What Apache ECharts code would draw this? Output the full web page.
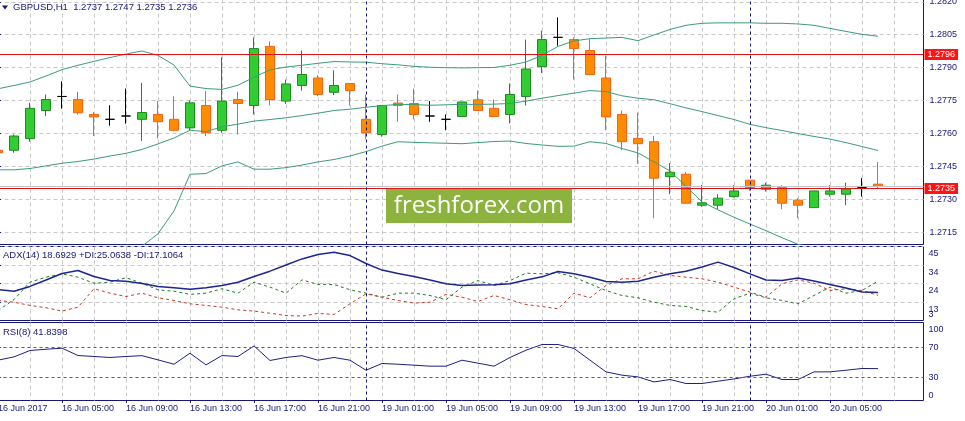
<!DOCTYPE html>
<html><head><meta charset="utf-8">
<script src="https://cdn.jsdelivr.net/npm/echarts@6/dist/echarts.min.js"></script>
<style>html,body{margin:0;padding:0;background:#fff}#c{width:965px;height:421px}</style>
</head><body><div id="c"></div>
<script>
// ---------- DATA ----------
const OPEN  = [1.27524,1.27524,1.27577,1.27705,1.27769,1.27755,1.27687,1.27665,1.27680,1.27665,1.27687,1.27665,1.27626,1.27728,1.27615,1.27755,1.27728,1.27997,1.27748,1.27819,1.27853,1.27788,1.27828,1.27665,1.27596,1.27739,1.27737,1.27680,1.27665,1.27678,1.27754,1.27715,1.27687,1.27769,1.27905,1.28038,1.28028,1.27978,1.27853,1.27687,1.27578,1.27563,1.27404,1.27415,1.27274,1.27274,1.27313,1.27388,1.27347,1.27354,1.27297,1.27263,1.27324,1.27324,1.27354,1.2737];
const CLOSE = [1.27513,1.27589,1.27715,1.27755,1.27769,1.27695,1.27676,1.27665,1.27680,1.27696,1.27654,1.27615,1.27740,1.27604,1.27748,1.27737,1.27987,1.27755,1.27826,1.27869,1.27778,1.27819,1.27796,1.27604,1.27728,1.27728,1.27687,1.27680,1.27665,1.27744,1.27705,1.27678,1.27778,1.27894,1.28028,1.28038,1.27987,1.27869,1.27676,1.27563,1.27554,1.27397,1.27424,1.27283,1.27285,1.27306,1.27339,1.27354,1.27365,1.27283,1.27274,1.27339,1.27339,1.27347,1.27354,1.2736];
const LOW   = [1.27512,1.27513,1.27563,1.27680,1.27713,1.27687,1.27589,1.27636,1.27645,1.27566,1.27578,1.27611,1.27615,1.27589,1.27604,1.27596,1.27687,1.27728,1.27735,1.27796,1.27770,1.27775,1.27728,1.27574,1.27586,1.27654,1.27665,1.27654,1.27615,1.27678,1.27705,1.27678,1.27646,1.27728,1.27876,1.28000,1.27846,1.27866,1.27615,1.27524,1.27463,1.27215,1.27324,1.27283,1.27267,1.27254,1.27309,1.27339,1.27336,1.27256,1.27215,1.27263,1.27313,1.27274,1.27313,1.2735];
const HIGH  = [1.27530,1.27596,1.27740,1.27778,1.27838,1.27790,1.27698,1.27729,1.27805,1.27831,1.27748,1.27770,1.27751,1.27793,1.27947,1.27790,1.28038,1.28020,1.27846,1.27978,1.27866,1.27888,1.27829,1.27778,1.27729,1.27778,1.27805,1.27748,1.27687,1.27744,1.27796,1.27755,1.27828,1.28028,1.28068,1.28129,1.28038,1.28030,1.27955,1.27705,1.27695,1.27589,1.27466,1.27425,1.27366,1.27324,1.27365,1.27388,1.27376,1.27365,1.27306,1.27339,1.27365,1.27376,1.27397,1.2747];

const BB_UPPER  = [1.27804,1.27819,1.27835,1.27862,1.27891,1.27911,1.27929,1.27946,1.27962,1.27976,1.27956,1.27912,1.27816,1.27805,1.27801,1.27820,1.27857,1.27890,1.27903,1.27911,1.27920,1.27928,1.27926,1.27925,1.27918,1.27913,1.27906,1.27902,1.27900,1.27899,1.27900,1.27901,1.27911,1.27926,1.27956,1.27997,1.28022,1.28032,1.28035,1.28038,1.28023,1.28049,1.28074,1.28093,1.28102,1.28104,1.28104,1.28104,1.28102,1.28102,1.28099,1.28093,1.28079,1.28065,1.28052,1.28043];
const BB_MIDDLE = [1.27435,1.27435,1.27441,1.27453,1.27465,1.27473,1.27484,1.27498,1.27510,1.27528,1.27553,1.27580,1.27615,1.27609,1.27631,1.27643,1.27657,1.27664,1.27672,1.27682,1.27693,1.27705,1.27711,1.27720,1.27727,1.27733,1.27732,1.27729,1.27731,1.27733,1.27733,1.27734,1.27737,1.27748,1.27761,1.27773,1.27784,1.27796,1.27791,1.27772,1.27761,1.27754,1.27736,1.27717,1.27700,1.27682,1.27664,1.27642,1.27627,1.27614,1.27600,1.27587,1.27575,1.27559,1.27541,1.27523];
const BB_LOWER  = [1.27065,1.27050,1.27047,1.27044,1.27039,1.27035,1.27040,1.27050,1.27059,1.27087,1.27144,1.27248,1.27415,1.27418,1.27453,1.27471,1.27438,1.27438,1.27445,1.27457,1.27471,1.27482,1.27498,1.27518,1.27543,1.27563,1.27560,1.27558,1.27556,1.27554,1.27559,1.27564,1.27566,1.27555,1.27548,1.27542,1.27543,1.27563,1.27555,1.27532,1.27512,1.27471,1.27430,1.27360,1.27289,1.27253,1.27219,1.27188,1.27158,1.27126,1.27096,1.27081,1.27071,1.27053,1.27031,1.27003];

const ADX      = [20.4,19.4,22.1,25.7,29.4,31.1,27.7,25.4,25.0,23.8,22.1,21.3,20.5,21.3,22.6,24.5,27.7,30.7,34.2,37.6,40.1,41.4,39.5,35.0,31.3,29.4,27.7,25.7,23.6,22.6,22.9,23.0,23.6,25.7,27.5,30.5,29.2,27.3,24.9,24.5,25.0,27.3,29.2,30.7,33.1,35.8,32.8,29.2,25.7,25.4,26.9,25.2,23.2,21.2,19.0,18.6929];
const PLUS_DI  = [8.5,14.7,24.5,27.3,29.2,27.3,23.9,24.5,27.0,23.9,20.2,19.4,17.6,18.3,20.8,18.3,24.5,21.7,18.3,25.8,23.2,23.2,20.2,18.3,16.0,18.3,18.3,17.0,14.6,21.7,25.4,22.6,25.4,29.6,29.2,29.8,27.3,23.6,19.8,17.0,15.7,13.2,11.4,10.8,8.5,7.6,15.1,18.3,15.7,14.2,12.3,17.0,21.7,18.3,19.8,25.0638];
const MINUS_DI = [14.2,13.2,11.4,10.1,8.2,10.4,20.8,18.3,16.4,18.3,15.7,14.2,12.3,11.4,10.4,8.9,8.2,7.0,5.7,5.4,6.9,6.3,12.3,17.9,16.0,14.2,12.7,13.2,17.6,16.0,13.6,17.0,14.6,11.9,10.8,9.5,18.3,15.7,22.6,26.4,26.4,30.7,28.3,27.3,26.4,24.5,21.7,18.9,16.0,23.6,25.8,23.9,19.8,20.8,19.8,17.1064];
const RSI      = [53.1,57.5,66.0,67.7,69.1,59.3,58.0,56.7,58.0,59.1,53.5,47.7,62.4,46.8,59.3,58.0,72.1,52.7,56.7,59.1,53.1,56.7,53.1,39.7,48.7,47.7,46.4,45.1,45.1,53.1,49.1,45.1,56.7,66.4,74.0,74.0,68.7,53.1,37.5,33.1,30.8,24.1,27.3,22.0,22.0,25.1,28.1,31.7,34.4,27.3,27.3,37.5,37.5,39.7,42.0,41.8398];

const TIME_LABELS = ['16 Jun 2017','16 Jun 05:00','16 Jun 09:00','16 Jun 13:00','16 Jun 17:00','16 Jun 21:00','19 Jun 01:00','19 Jun 05:00','19 Jun 09:00','19 Jun 13:00','19 Jun 17:00','19 Jun 21:00','20 Jun 01:00','20 Jun 05:00'];
const PRICE_TICKS = [1.2820,1.2805,1.2790,1.2775,1.2760,1.2745,1.2730,1.2715];
const PRICE_LEVELS = [1.2796,1.2735];
const BID = 1.2736;
const RSI_LEVELS = [70,30];
const RSI_RANGE_LABELS = [100,0];
const ADX_MIN = 2.9, ADX_MAX = 44.6;
const SEPARATORS = [23,47];
const HEADER = 'GBPUSD,H1  1.2737 1.2747 1.2735 1.2736';
const ADX_TITLE = 'ADX(14) 18.6929 +DI:25.0638 -DI:17.1064';
const RSI_TITLE = 'RSI(8) 41.8398';

// ---------- LAYOUT ----------
const PX_C0 = -2, PX_STEP = 16, G_LEFT = -2.5, G_WIDTH = 926;
const X_MIN = (G_LEFT - PX_C0) / PX_STEP, X_MAX = (G_LEFT + G_WIDTH - PX_C0) / PX_STEP;
const NAVY = '#17177a', GRIDC = '#c8c8c8', FONT = 'Liberation Sans';
const RSI_AX_MIN = -0.67, RSI_AX_MAX = 103.33;
const idx = OPEN.map((_, i) => i);
const gridXs = []; for (let v = 0; v <= 56; v += 2) gridXs.push(v);
const labelXs = TIME_LABELS.map((_, k) => k * 4);
const adxStep = (ADX_MAX - ADX_MIN) / 4;
const adxTicks = [0,1,2,3].map(k => ADX_MAX - k * adxStep);
const adxLowest = adxTicks[adxTicks.length - 1];

const candles = idx.filter(i => OPEN[i] !== CLOSE[i]).map(i => [i, OPEN[i], CLOSE[i], LOW[i], HIGH[i]]);
const dojis = idx.filter(i => OPEN[i] === CLOSE[i]).map(i => [i, OPEN[i], CLOSE[i], LOW[i], HIGH[i]]);
const pair = arr => arr.map((v, i) => [i, v]);

const splitDash = {show: true, lineStyle: {color: GRIDC, type: [4,3], width: 1}};
function xAx(grid, extra) {
  return Object.assign({type: 'value', gridIndex: grid, min: X_MIN, max: X_MAX, position: 'bottom',
    axisLine: {show: false}, axisTick: {show: false, customValues: gridXs}, axisLabel: {show: false},
    splitLine: splitDash}, extra || {});
}
const lbl = {color: NAVY, fontSize: 9, fontFamily: FONT, showMinLabel: true, showMaxLabel: true, hideOverlap: false};
const sepMark = {silent: true, symbol: ['none','none'], animation: false, precision: 5,
  lineStyle: {color: NAVY, type: [3,3], width: 1}, label: {show: false}, emphasis: {disabled: true},
  data: SEPARATORS.map(v => ({xAxis: v}))};
const richTxt = {fontSize: 9, fontFamily: FONT, color: NAVY};

const option = {
  animation: false,
  backgroundColor: '#ffffff',
  grid: [
    {left: G_LEFT, top: -0.5, width: G_WIDTH, height: 245, show: true, borderColor: NAVY, borderWidth: 1, containLabel: false, outerBoundsMode: 'none'},
    {left: G_LEFT, top: 246.5, width: G_WIDTH, height: 74, show: true, borderColor: NAVY, borderWidth: 1, containLabel: false, outerBoundsMode: 'none'},
    {left: G_LEFT, top: 322.5, width: G_WIDTH, height: 78, show: true, borderColor: NAVY, borderWidth: 1, containLabel: false, outerBoundsMode: 'none'}
  ],
  xAxis: [
    xAx(0), xAx(1), xAx(2),
    xAx(2, {splitLine: {show: false},
      axisTick: {show: true, customValues: labelXs, length: 3, lineStyle: {color: NAVY}},
      axisLabel: Object.assign({show: true, customValues: labelXs, align: 'left', margin: 4,
        formatter: v => TIME_LABELS[Math.round(v / 4)]}, lbl)})
  ],
  yAxis: [
    {type: 'value', gridIndex: 0, position: 'right', min: 1.270951, max: 1.282104,
      axisLine: {show: true, lineStyle: {color: NAVY}},
      axisTick: {show: true, length: 3, customValues: PRICE_TICKS, lineStyle: {color: NAVY}},
      axisLabel: Object.assign({customValues: PRICE_TICKS, margin: 6, formatter: v => v.toFixed(4)}, lbl),
      splitLine: splitDash},
    {type: 'value', gridIndex: 1, position: 'right', min: ADX_MIN, max: ADX_MAX,
      axisLine: {show: true, lineStyle: {color: NAVY}},
      axisTick: {show: true, length: 3, customValues: adxTicks, lineStyle: {color: NAVY}},
      axisLabel: Object.assign({customValues: adxTicks, margin: 5, verticalAlign: 'top', padding: [3,0,0,0],
        formatter: v => (Math.abs(v - adxLowest) < 1e-6
          ? '{a|' + Math.round(v) + '}\n{b|' + Math.round(ADX_MIN) + '}'
          : String(Math.round(v))),
        rich: {a: Object.assign({lineHeight: 9}, richTxt), b: Object.assign({lineHeight: 2}, richTxt)}}, lbl),
      splitLine: splitDash},
    {type: 'value', gridIndex: 2, position: 'right', min: RSI_AX_MIN, max: RSI_AX_MAX,
      axisLine: {show: true, lineStyle: {color: NAVY}},
      axisTick: {show: true, length: 3, customValues: RSI_LEVELS, lineStyle: {color: NAVY}},
      axisLabel: Object.assign({customValues: RSI_LEVELS, margin: 5}, lbl),
      splitLine: {show: false}},
    {type: 'value', gridIndex: 2, position: 'right', min: RSI_AX_MIN, max: RSI_AX_MAX,
      axisLine: {show: false}, axisTick: {show: false}, splitLine: {show: false},
      axisLabel: Object.assign({customValues: [RSI_RANGE_LABELS[0]], margin: 5, verticalAlign: 'top'}, lbl)},
    {type: 'value', gridIndex: 2, position: 'right', min: RSI_AX_MIN, max: RSI_AX_MAX,
      axisLine: {show: false}, axisTick: {show: false}, splitLine: {show: false},
      axisLabel: Object.assign({customValues: [RSI_RANGE_LABELS[1]], margin: 5, verticalAlign: 'bottom'}, lbl)}
  ],
  series: [
    {type: 'candlestick', xAxisIndex: 0, yAxisIndex: 0, data: candles, barWidth: 9,
      itemStyle: {color: '#32cd32', color0: '#ff8c00', borderColor: '#1f8a1f', borderColor0: '#ef6419', borderWidth: 1}},
    {type: 'candlestick', xAxisIndex: 0, yAxisIndex: 0, data: dojis, barWidth: 10,
      itemStyle: {color: '#000', color0: '#000', borderColor: '#000', borderColor0: '#000', borderColorDoji: '#000', borderWidth: 1}},
    {type: 'line', xAxisIndex: 0, yAxisIndex: 0, data: pair(BB_LOWER), symbol: 'none', lineStyle: {color: '#3a9e78', width: 1},
      markLine: {silent: true, symbol: ['none','none'], animation: false, precision: 5,
        lineStyle: {color: '#c4c4c4', type: 'solid', width: 1}, label: {show: false}, emphasis: {disabled: true},
        data: [{yAxis: BID}]}},
    {type: 'line', xAxisIndex: 0, yAxisIndex: 0, data: pair(BB_MIDDLE), symbol: 'none', lineStyle: {color: '#3a9e78', width: 1},
      markLine: {silent: true, symbol: ['none','none'], animation: false, precision: 5,
        lineStyle: {color: '#e01010', type: 'solid', width: 1, opacity: 1}, emphasis: {disabled: true},
        label: {show: true, position: 'end', distance: 1, formatter: p => Number(p.value).toFixed(4), color: '#ffffff',
          backgroundColor: '#ff1414', padding: [1,3,1,3], fontSize: 9, fontFamily: FONT},
        data: PRICE_LEVELS.map(p => ({yAxis: p}))}},
    {type: 'line', xAxisIndex: 0, yAxisIndex: 0, data: pair(BB_UPPER), symbol: 'none', lineStyle: {color: '#3a9e78', width: 1},
      markLine: sepMark},
    {type: 'line', xAxisIndex: 1, yAxisIndex: 1, data: pair(PLUS_DI), symbol: 'none', lineStyle: {color: '#227a22', width: 1, type: [3,3]}},
    {type: 'line', xAxisIndex: 1, yAxisIndex: 1, data: pair(MINUS_DI), symbol: 'none', lineStyle: {color: '#c43a2a', width: 1, type: [3,3]}},
    {type: 'line', xAxisIndex: 1, yAxisIndex: 1, data: pair(ADX), symbol: 'none', lineStyle: {color: '#1c2690', width: 1.5},
      markLine: sepMark},
    {type: 'line', xAxisIndex: 2, yAxisIndex: 2, data: pair(RSI), symbol: 'none', lineStyle: {color: '#1c2180', width: 1},
      markLine: {silent: true, symbol: ['none','none'], animation: false, precision: 5,
        lineStyle: {color: '#d03028', type: [3,3], width: 1}, label: {show: false}, emphasis: {disabled: true},
        data: RSI_LEVELS.map(v => ({yAxis: v}))}},
    {type: 'line', xAxisIndex: 2, yAxisIndex: 2, data: [], symbol: 'none', markLine: sepMark}
  ],
  graphic: [
    {type: 'polygon', shape: {points: [[2,5.5],[8,5.5],[5,9.5]]}, style: {fill: NAVY}, z: 50},
    {type: 'text', x: 13, y: 7.5, style: {text: HEADER, fill: NAVY, font: '9.5px "Liberation Sans"', verticalAlign: 'middle'}, z: 50},
    {type: 'text', x: 3, y: 255.5, style: {text: ADX_TITLE, fill: NAVY, font: '9.5px "Liberation Sans"', verticalAlign: 'middle'}, z: 50},
    {type: 'text', x: 3, y: 332, style: {text: RSI_TITLE, fill: NAVY, font: '9.5px "Liberation Sans"', verticalAlign: 'middle'}, z: 50},
    {type: 'rect', shape: {x: 386, y: 189, width: 186, height: 34}, style: {fill: '#8db33f'}, z: 60},
    {type: 'text', x: 479, y: 206, style: {text: 'freshforex.com', fill: '#ffffff', font: '24px "Open Sans"', align: 'center', verticalAlign: 'middle'}, z: 61}
  ]
};
const chart = echarts.init(document.getElementById('c'), null, {renderer: 'canvas'});
chart.setOption(option);
</script>
</body></html>
